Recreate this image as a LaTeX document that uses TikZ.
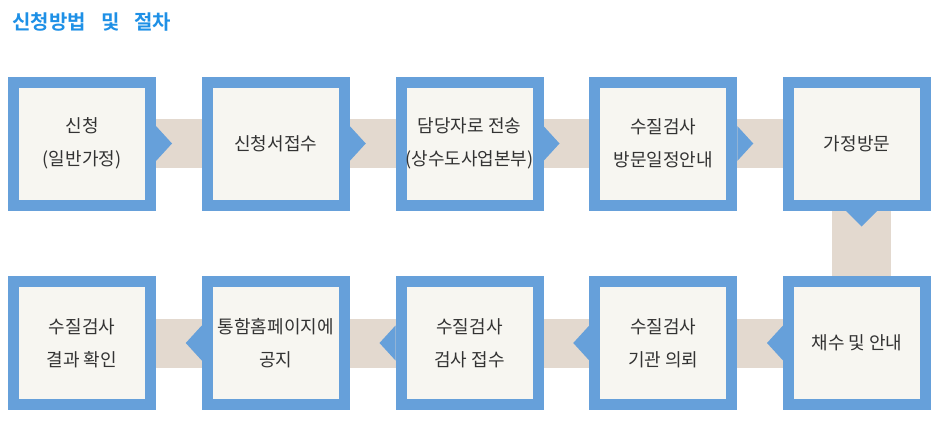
\documentclass[tikz,border=0pt]{standalone}
\usepackage{fontspec}
\setmainfont{Noto Sans CJK KR}[BoldFont={Noto Sans CJK KR Bold}]
\usepackage{color}
\usepackage{tikz}
\usetikzlibrary{backgrounds}
\definecolor{frameblue}{RGB}{102,160,218}
\definecolor{bandbeige}{RGB}{227,217,207}
\definecolor{paperwhite}{RGB}{247,246,241}
\definecolor{titleblue}{RGB}{30,144,230}
\definecolor{textgrey}{RGB}{51,51,51}

\begin{document}
\begin{tikzpicture}[x=1pt,y=-1pt]
\tikzstyle{stepbox}=[rectangle,draw=frameblue,fill=paperwhite,line width=11pt,inner sep=0pt,outer sep=5.5pt,minimum width=137pt,minimum height=123pt,align=center,text=textgrey,font=\fontsize{18}{33}\selectfont]
\tikzstyle{band}=[draw=bandbeige,line width=49pt]
\useasboundingbox (0,0) rectangle (943,423);

% Title
\node (title) [anchor=west,text=titleblue,font=\fontsize{20}{24}\selectfont\bfseries] at (9,22) {\spaceskip=15pt 신청방법 및 절차};

% First row
\node (b1) [stepbox] at (82,143.5) {신청\\(일반가정)};
\node (b2) [stepbox] at (275.75,143.5) {신청서접수};
\node (b3) [stepbox] at (469.5,143.5) {담당자로 전송\\(상수도사업본부)};
\node (b4) [stepbox] at (663.25,143.5) {수질검사\\방문일정안내};
\node (b5) [stepbox] at (857,143.5) {가정방문};

% Second row
\node (b6) [stepbox] at (857,343) {채수 및 안내};
\node (b7) [stepbox] at (663.25,343) {수질검사\\기관 의뢰};
\node (b8) [stepbox] at (469.5,343) {수질검사\\검사 접수};
\node (b9) [stepbox] at (275.75,343) {통함홈페이지에\\공지};
\node (b10) [stepbox] at (82,343) {수질검사\\결과 확인};

% Bands behind the boxes
\begin{pgfonlayer}{background}
\draw[band] (b1) -- (b2);
\draw[band] (b2) -- (b3);
\draw[band] (b3) -- (b4);
\draw[band] (b4) -- (b5);
\draw[band,line width=59pt] ([xshift=4.5pt]b5.south) -- ([xshift=4.5pt]b6.north);
\draw[band] (b6) -- (b7);
\draw[band] (b7) -- (b8);
\draw[band] (b8) -- (b9);
\draw[band] (b9) -- (b10);
\end{pgfonlayer}

% Notches
\fill[frameblue] (b1.east) ++(0,-17.5) -- ++(16,17.5) -- ++(-16,17.5) -- cycle;
\fill[frameblue] (b2.east) ++(0,-17.5) -- ++(16,17.5) -- ++(-16,17.5) -- cycle;
\fill[frameblue] (b3.east) ++(0,-17.5) -- ++(16,17.5) -- ++(-16,17.5) -- cycle;
\fill[frameblue] (b4.east) ++(0,-17.5) -- ++(16,17.5) -- ++(-16,17.5) -- cycle;
\fill[frameblue] (b5.south) ++(-11.5,0) -- ++(16,16) -- ++(16,-16) -- cycle;
\fill[frameblue] (b6.west) ++(0,-17.5) -- ++(-16,17.5) -- ++(16,17.5) -- cycle;
\fill[frameblue] (b7.west) ++(0,-17.5) -- ++(-16,17.5) -- ++(16,17.5) -- cycle;
\fill[frameblue] (b8.west) ++(0,-17.5) -- ++(-16,17.5) -- ++(16,17.5) -- cycle;
\fill[frameblue] (b9.west) ++(0,-17.5) -- ++(-16,17.5) -- ++(16,17.5) -- cycle;

\end{tikzpicture}
\end{document}
